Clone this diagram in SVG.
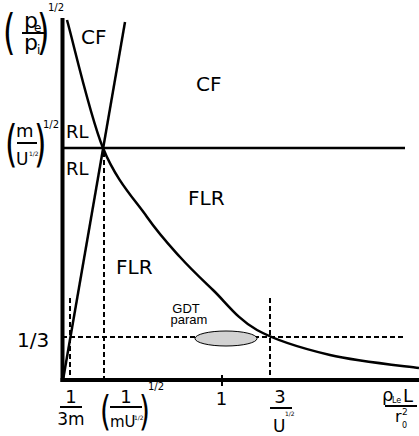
<svg xmlns="http://www.w3.org/2000/svg" width="419" height="436" viewBox="0 0 419 436">
<style>
.t{font-family:"DejaVu Sans","Verdana",sans-serif;fill:#000}
.a{font-family:"Liberation Sans","Arial",sans-serif;fill:#000}
.ln{stroke:#000;fill:none}
.d{stroke:#000;stroke-width:2;stroke-dasharray:5,3;fill:none}
.bar{stroke:#000;stroke-width:2}
</style>
<rect width="419" height="436" fill="#fff"/>
<g id="axes">
<line class="ln" x1="62.5" y1="18" x2="62.5" y2="382" stroke-width="4"/>
<line class="ln" x1="60.5" y1="380" x2="419" y2="380" stroke-width="4"/>
<line class="ln" x1="222" y1="375" x2="222" y2="386" stroke-width="2"/>
</g>
<g id="connectors">
<line class="ln" x1="62" y1="148" x2="405" y2="148" stroke-width="2.6"/>
<line class="ln" x1="63" y1="380" x2="125" y2="22" stroke-width="2.5"/>
<path class="ln" stroke-width="2.5" d="M67,20 C73,41 89.7,115.2 103,148 C116.3,180.8 134.2,198.8 147,217 C159.8,235.2 169,244.8 180,257 C191,269.2 200.2,277.7 213,290 C225.8,302.2 237.5,319.2 257,330 C276.5,340.8 303.3,348.7 330,355 C356.7,361.3 402.5,365.8 419,368"/>
<line class="d" x1="104" y1="152" x2="104" y2="380"/>
<line class="d" x1="70" y1="298" x2="70" y2="380"/>
<line class="d" x1="270" y1="298" x2="270" y2="380"/>
<line class="d" x1="62" y1="337" x2="405" y2="337"/>
</g>
<g id="gdt">
<ellipse cx="226" cy="338.5" rx="31" ry="7.5" fill="#d2d2d2" stroke="#000" stroke-width="1"/>
<text class="a" x="186" y="313" font-size="13" text-anchor="middle">GDT</text>
<text class="a" x="189" y="324" font-size="13" text-anchor="middle">param</text>
</g>
<g id="regions">
<text class="t" x="81" y="44" font-size="20">CF</text>
<text class="t" x="196" y="91" font-size="20">CF</text>
<text class="t" x="66" y="138" font-size="18">RL</text>
<text class="t" x="66" y="175" font-size="18">RL</text>
<text class="t" x="188" y="205" font-size="20">FLR</text>
<text class="t" x="116" y="274" font-size="20">FLR</text>
</g>
<g id="ylabel-top">
<text class="t" font-size="32" transform="translate(3,48.7) scale(1,1.51)">(</text>
<text class="t" x="24" y="27.5" font-size="22">p</text>
<text class="t" x="34" y="32" font-size="12">e</text>
<line class="bar" x1="22" y1="33" x2="45" y2="33"/>
<text class="t" x="24" y="50" font-size="22">p</text>
<text class="t" x="37" y="54" font-size="12">i</text>
<text class="t" font-size="32" transform="translate(37,48.7) scale(1,1.51)">)</text>
<text class="t" x="48" y="11" font-size="10">1/2</text>
</g>
<g id="ylabel-mid">
<text class="t" font-size="32" transform="translate(5,161.4) scale(1,1.58)">(</text>
<text class="t" x="16" y="137" font-size="18">m</text>
<line class="bar" x1="17" y1="143" x2="37" y2="143"/>
<text class="t" x="16" y="165" font-size="17">U</text>
<text class="t" x="29" y="156" font-size="6">1/2</text>
<text class="t" font-size="32" transform="translate(34,161.4) scale(1,1.58)">)</text>
<text class="t" x="43" y="128" font-size="10">1/2</text>
</g>
<g id="ylabel-third">
<text class="t" x="17" y="347" font-size="20">1/3</text>
</g>
<g id="xlabel-3m">
<text class="t" x="71" y="403" font-size="18" text-anchor="middle">1</text>
<line class="bar" x1="60" y1="407" x2="82" y2="407"/>
<text class="t" x="71" y="425" font-size="17" text-anchor="middle">3m</text>
</g>
<g id="xlabel-mu">
<text class="t" font-size="28" transform="translate(100,424.6) scale(1,1.48)">(</text>
<text class="t" x="126" y="403" font-size="18" text-anchor="middle">1</text>
<line class="bar" x1="110" y1="407" x2="142" y2="407"/>
<text class="t" x="110" y="427" font-size="15">mU</text>
<text class="t" x="134" y="420" font-size="6">1/2</text>
<text class="t" font-size="28" transform="translate(139,424.6) scale(1,1.48)">)</text>
<text class="t" x="148" y="390" font-size="10">1/2</text>
</g>
<g id="xlabel-one">
<text class="t" x="221.5" y="405" font-size="18" text-anchor="middle">1</text>
</g>
<g id="xlabel-3u">
<text class="t" x="280" y="403" font-size="18" text-anchor="middle">3</text>
<line class="bar" x1="270" y1="408" x2="292" y2="408"/>
<text class="t" x="273" y="432" font-size="17">U</text>
<text class="t" x="285" y="416" font-size="6">1/2</text>
</g>
<g id="xlabel-rho">
<text class="t" x="382" y="401" font-size="18">ρ</text>
<text class="t" x="392" y="403" font-size="8">Le</text>
<text class="t" x="403" y="402" font-size="18">L</text>
<line class="bar" x1="385" y1="406" x2="417" y2="406"/>
<text class="t" x="395" y="422" font-size="16">r</text>
<text class="t" x="402" y="415" font-size="9">2</text>
<text class="t" x="402" y="428" font-size="8">0</text>
</g>
</svg>
